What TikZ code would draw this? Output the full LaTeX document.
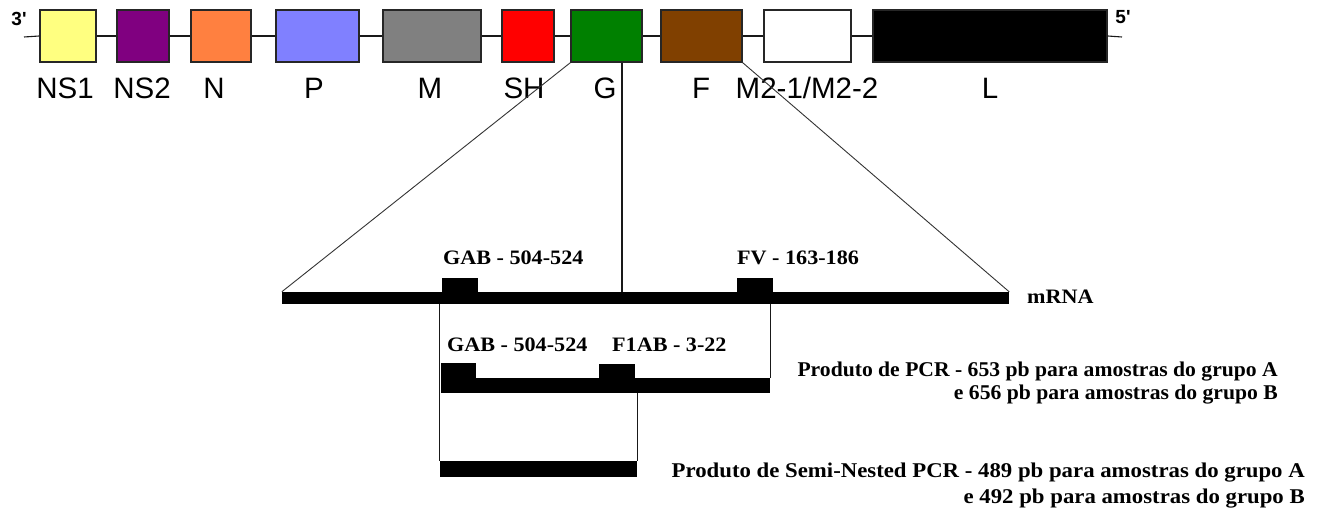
\documentclass[tikz,border=0pt]{standalone}
\usepackage{fontspec}
\setmainfont{Liberation Serif}
\newfontfamily\genefont{Liberation Sans}
\newfontfamily\primerfont[FakeStretch=1.08]{Liberation Serif}
\newfontfamily\pcrfont[FakeStretch=1.03]{Liberation Serif}
\newfontfamily\semifont[FakeStretch=1.085]{Liberation Serif}
\definecolor{cNSone}{HTML}{FFFF80}
\definecolor{cNStwo}{HTML}{800080}
\definecolor{cN}{HTML}{FF8040}
\definecolor{cP}{HTML}{8080FF}
\definecolor{cM}{HTML}{808080}
\definecolor{cSH}{HTML}{FF0000}
\definecolor{cG}{HTML}{008000}
\definecolor{cF}{HTML}{804000}
\definecolor{cMtwo}{HTML}{FFFFFF}
\definecolor{cL}{HTML}{000000}
\tikzset{
  genebox/.style={draw=black!85, line width=1.4pt, inner sep=0pt, minimum height=52pt},
  genelabel/.style={font=\genefont\fontsize{29.5}{31}\selectfont, inner sep=0pt},
  endlabel/.style={font=\genefont\bfseries\fontsize{19}{20}\selectfont, inner sep=0pt},
  strand/.style={fill=black, draw=none, inner sep=0pt},
  primer/.style={fill=black, draw=none, inner sep=0pt},
  seqlabel/.style={font=\primerfont\bfseries\fontsize{20.5}{23}\selectfont, inner sep=0pt, anchor=west},
  prodlabel/.style={inner sep=0pt, anchor=east, align=right},
  link/.style={line width=1.1pt, black!90},
  zoomline/.style={line width=0.9pt, black!80},
}
\begin{document}
\begin{tikzpicture}[x=1pt, y=-1pt]
\useasboundingbox (0,0) rectangle (1324,510);

% genome map, 3' -> 5'
\coordinate (end3) at (24,37);
\coordinate (end5) at (1122,37);
\node[genebox, fill=cNSone, minimum width=56pt] (ns1) at (68,36) {};
\node[genebox, fill=cNStwo, minimum width=52pt] (ns2) at (143,36) {};
\node[genebox, fill=cN,     minimum width=60pt] (n)   at (221,36) {};
\node[genebox, fill=cP,     minimum width=83pt] (p)   at (317.5,36) {};
\node[genebox, fill=cM,     minimum width=98pt] (m)   at (432,36) {};
\node[genebox, fill=cSH,    minimum width=52pt] (sh)  at (528,36) {};
\node[genebox, fill=cG,     minimum width=71pt] (g)   at (606.5,36) {};
\node[genebox, fill=cF,     minimum width=81pt] (f)   at (701.5,36) {};
\node[genebox, fill=cMtwo,  minimum width=87pt] (mtwo) at (807.5,36) {};
\node[genebox, fill=cL,     minimum width=234pt] (l)  at (990,36) {};

\draw[link] (end3) -- (ns1.west);
\draw[link] (ns1.east) -- (ns2.west);
\draw[link] (ns2.east) -- (n.west);
\draw[link] (n.east) -- (p.west);
\draw[link] (p.east) -- (m.west);
\draw[link] (m.east) -- (sh.west);
\draw[link] (sh.east) -- (g.west);
\draw[link] (g.east) -- (f.west);
\draw[link] (f.east) -- (mtwo.west);
\draw[link] (mtwo.east) -- (l.west);
\draw[link] (l.east) -- (end5);

\node[endlabel] (lab3) at (19,19) {3'};
\node[endlabel] (lab5) at (1123,17) {5'};

\node[genelabel] (tns1) at (65,88) {NS1};
\node[genelabel] (tns2) at (142,88) {NS2};
\node[genelabel] (tn)   at (214,88) {N};
\node[genelabel] (tp)   at (314,88) {P};
\node[genelabel] (tm)   at (430,88) {M};
\node[genelabel] (tsh)  at (524,88) {SH};
\node[genelabel] (tg)   at (605,88) {G};
\node[genelabel] (tf)   at (701,88) {F};
\node[genelabel] (tmtwo) at (807,88) {M2-1/M2-2};
\node[genelabel] (tl)   at (990,88) {L};

% mRNA with the outer primers
\node[strand, minimum width=727pt, minimum height=12pt] (mrna) at (645.5,298) {};
\node[primer, minimum width=36pt, minimum height=14pt] (gab) at (460,285) {};
\node[primer, minimum width=36pt, minimum height=14pt] (fv)  at (755,285) {};
\node[seqlabel] (tgab) at (443,258) {GAB - 504-524};
\node[seqlabel] (tfv)  at (737,258) {FV - 163-186};
\node[seqlabel] (tmrna) at (1027,297) {mRNA};

% zoom from the G/F region onto the mRNA
\coordinate (gcut) at (622,0);
\draw[zoomline] (g.south west) -- (mrna.north west);
\draw[zoomline] (f.south east) -- (mrna.north east);
\draw[link] (g.south -| gcut) -- (mrna.north -| gcut);

% PCR product
\node[strand, minimum width=329pt, minimum height=15pt] (pcr) at (605.5,385.5) {};
\node[primer, minimum width=35pt, minimum height=15pt] (gabb) at (458.5,370.5) {};
\node[primer, minimum width=36pt, minimum height=14pt] (fab)  at (617,371) {};
\node[seqlabel] (tgabb) at (447,345) {GAB - 504-524};
\node[seqlabel] (tfab)  at (612,345) {F1AB - 3-22};
\node[prodlabel, font=\pcrfont\bfseries\fontsize{21}{23}\selectfont] (tpcr) at (1278,383.5) {Produto de PCR - 653 pb para amostras do grupo A\\e 656 pb para amostras do grupo B};

% semi-nested PCR product
\node[strand, minimum width=197pt, minimum height=16pt] (semi) at (538.5,469) {};
\node[prodlabel, font=\semifont\bfseries\fontsize{21}{23}\selectfont] (tsemi) at (1305,486) {Produto de Semi-Nested PCR - 489 pb para amostras do grupo A\\[3pt]e 492 pb para amostras do grupo B};

\draw[link] (mrna.south -| semi.west) -- (semi.north west);
\draw[link] (pcr.north east) -- (mrna.south -| pcr.east);
\draw[link] (pcr.south -| semi.east) -- (semi.north east);
\end{tikzpicture}
\end{document}
